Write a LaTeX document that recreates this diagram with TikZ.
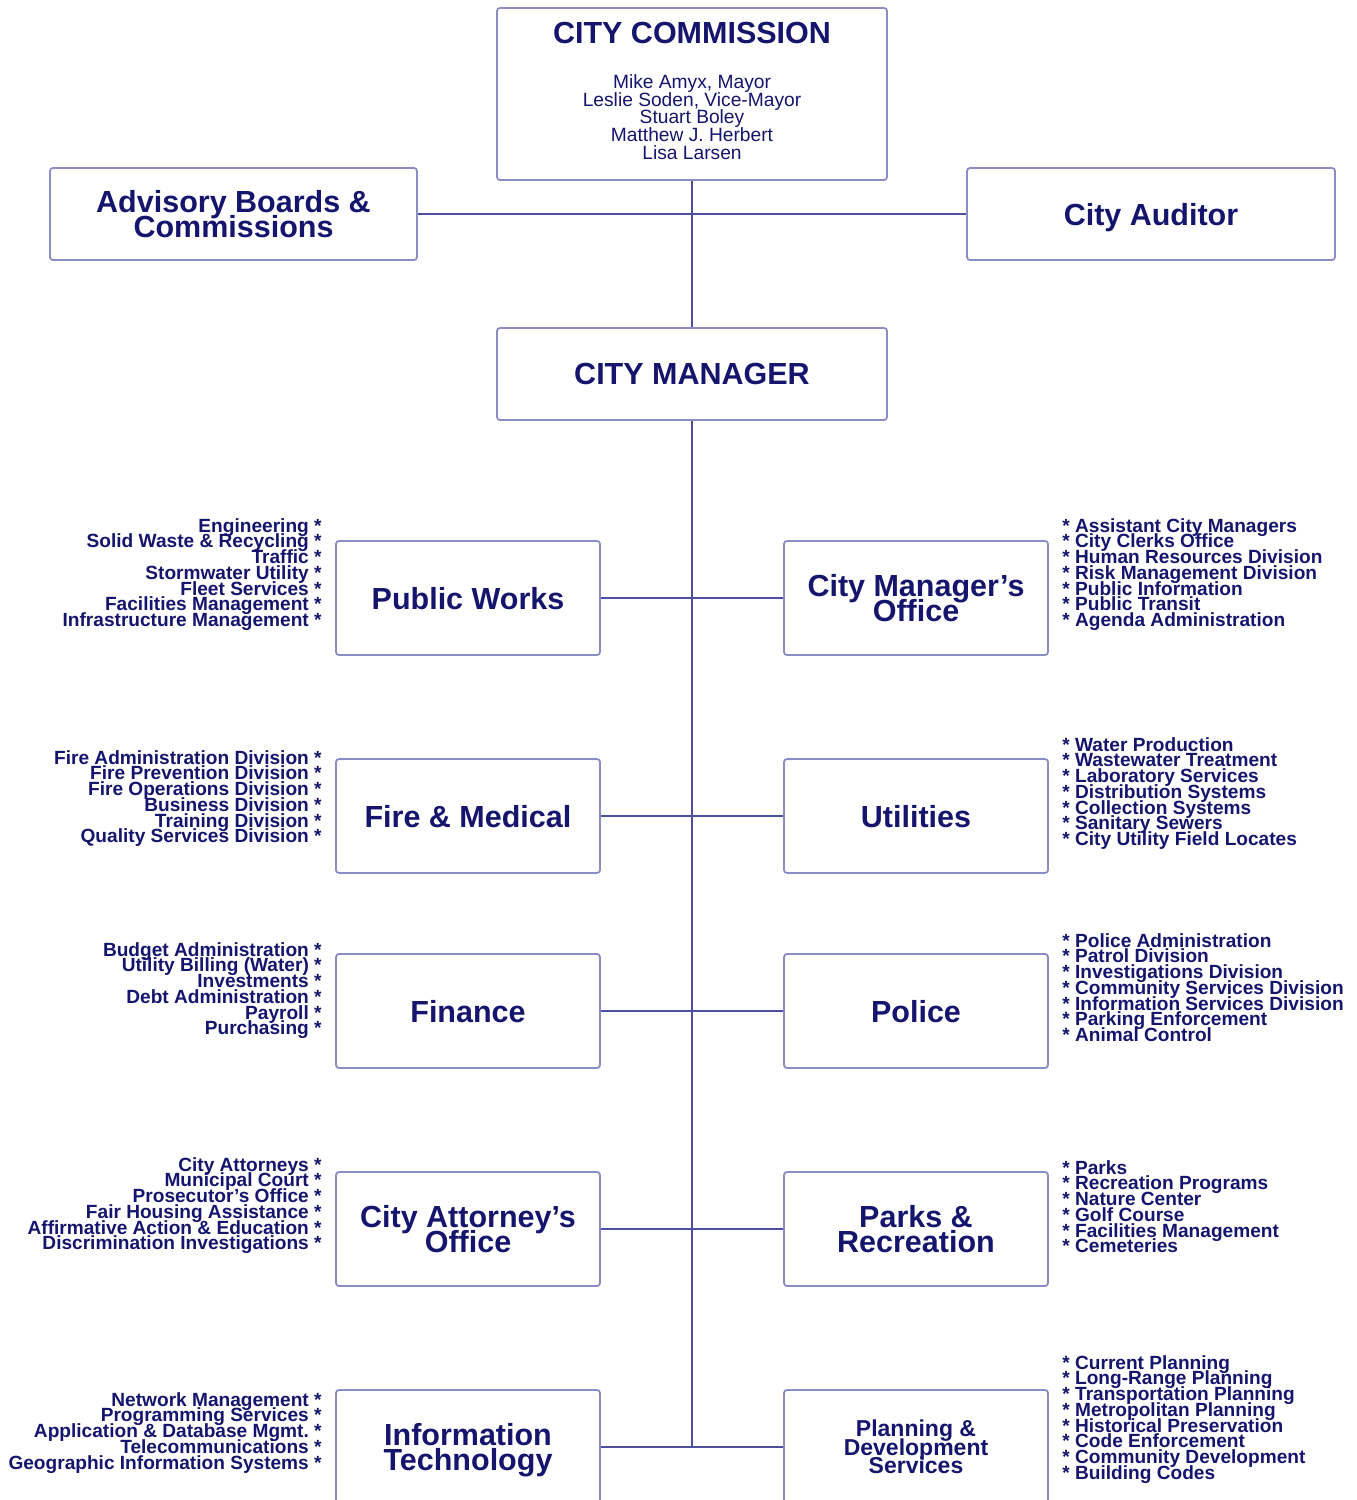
\documentclass[tikz,border=0pt]{standalone}
\usepackage{fontspec}
\setmainfont{Liberation Sans}
\definecolor{ink}{HTML}{15156E}
\definecolor{wire}{HTML}{4F4FA0}
\definecolor{frame}{HTML}{8C8CC6}

% tight line spacing for stacked titles
\newcommand\tightlines{\lineskiplimit=-50pt\relax}

% one division list: name, x, first baseline, items
\newcommand\divsL[4]{%
  \foreach \t [count=\i from 0] in {#4}
    \node[ldiv] (#1-\i) at (#2,{#3+15.75*\i}) {\t~*};}
\newcommand\divsR[4]{%
  \foreach \t [count=\i from 0] in {#4}
    \node[rdiv] (#1-\i) at (#2,{#3+15.75*\i}) {*~\t};}

\begin{document}
\begin{tikzpicture}[x=0.5pt,y=-0.5pt,
  box/.style={draw=frame, line width=0.9pt, rounded corners=1.5pt, fill=white,
    text=ink, align=center, inner sep=0pt, text depth=0pt,
    font=\bfseries\fontsize{15.25}{12.5}\selectfont\tightlines},
  unitbox/.style={box, minimum width=132pt, minimum height=57pt},
  topbox/.style={box, minimum height=46pt},
  link/.style={draw=wire, line width=1.1pt},
  ldiv/.style={anchor=base east, inner sep=0pt, text=ink,
    font=\bfseries\fontsize{9.55}{9.55}\selectfont},
  rdiv/.style={anchor=base west, inner sep=0pt, text=ink,
    font=\bfseries\fontsize{9.55}{9.55}\selectfont},
  member/.style={anchor=base, inner sep=0pt, text=ink,
    font=\fontsize{9.6}{9.6}\selectfont}]

\useasboundingbox (0,0) rectangle (1356,1500);
\fill[white] (0,0) rectangle (1356,1500);
\clip (0,0) rectangle (1356,1500);

% governing body
\node[box, minimum width=195pt, minimum height=86pt] (comm) at (692,94) {};
\node[anchor=base, inner sep=0pt, text=ink, font=\bfseries\fontsize{15.25}{15}\selectfont]
  (commtitle) at (692,43.3) {CITY COMMISSION};
\foreach \t [count=\i from 0] in {{Mike Amyx, Mayor}, {Leslie Soden, Vice-Mayor},
    Stuart Boley, Matthew J. Herbert, Lisa Larsen}
  \node[member] (mem-\i) at (692,{88.3+17.7*\i}) {\t};

\node[topbox, minimum width=183.5pt] (adv) at (233.5,214) {Advisory Boards \&\\Commissions};
\node[topbox, minimum width=184pt] (aud) at (1151,214) {City Auditor};
\node[topbox, minimum width=195pt] (mgr) at (692,374) {CITY MANAGER};

% departments
\node[unitbox] (pw)   at (468,598)  {Public Works};
\node[unitbox] (cmo)  at (916,598)  {City Manager’s\\Office};
\node[unitbox] (fire) at (468,816)  {Fire \& Medical};
\node[unitbox] (util) at (916,816)  {Utilities};
\node[unitbox] (fin)  at (468,1011) {Finance};
\node[unitbox] (pol)  at (916,1011) {Police};
\node[unitbox] (atty) at (468,1229) {City Attorney’s\\Office};
\node[unitbox] (parks) at (916,1229) {Parks \&\\Recreation};
\node[unitbox] (it)   at (468,1447) {Information\\Technology};
\node[unitbox, font=\bfseries\fontsize{11.5}{9.25}\selectfont\tightlines] (plan) at (916,1447)
  {Planning \&\\Development\\Services};

% connectors
\coordinate (trunkend) at (692,1447);
\draw[link] (comm.south) -- (mgr.north);
\draw[link] (adv.east) -- (aud.west);
\draw[link] (mgr.south) -- (trunkend);
\draw[link] (pw.east) -- (cmo.west);
\draw[link] (fire.east) -- (util.west);
\draw[link] (fin.east) -- (pol.west);
\draw[link] (atty.east) -- (parks.west);
\draw[link] (it.east) -- (plan.west);

% divisions
\divsL{pwd}{322}{532}{Engineering, Solid Waste \& Recycling, Traffic, Stormwater Utility,
  Fleet Services, Facilities Management, Infrastructure Management}
\divsR{cmod}{1062}{532}{Assistant City Managers, City Clerks Office, Human Resources Division,
  Risk Management Division, Public Information, Public Transit, Agenda Administration}
\divsL{fired}{322}{764}{Fire Administration Division, Fire Prevention Division,
  Fire Operations Division, Business Division, Training Division, Quality Services Division}
\divsR{utild}{1062}{751}{Water Production, Wastewater Treatment, Laboratory Services,
  Distribution Systems, Collection Systems, Sanitary Sewers, City Utility Field Locates}
\divsL{find}{322}{956}{Budget Administration, Utility Billing (Water), Investments,
  Debt Administration, Payroll, Purchasing}
\divsR{pold}{1062}{947}{Police Administration, Patrol Division, Investigations Division,
  Community Services Division, Information Services Division, Parking Enforcement, Animal Control}
\divsL{attyd}{322}{1171}{City Attorneys, Municipal Court, Prosecutor’s Office,
  Fair Housing Assistance, Affirmative Action \& Education, Discrimination Investigations}
\divsR{parksd}{1062}{1174}{Parks, Recreation Programs, Nature Center, Golf Course,
  Facilities Management, Cemeteries}
\divsL{itd}{322}{1406}{Network Management, Programming Services, Application \& Database Mgmt.,
  Telecommunications, Geographic Information Systems}
\divsR{pland}{1062}{1369}{Current Planning, Long-Range Planning, Transportation Planning,
  Metropolitan Planning, Historical Preservation, Code Enforcement, Community Development,
  Building Codes}

\end{tikzpicture}
\end{document}
